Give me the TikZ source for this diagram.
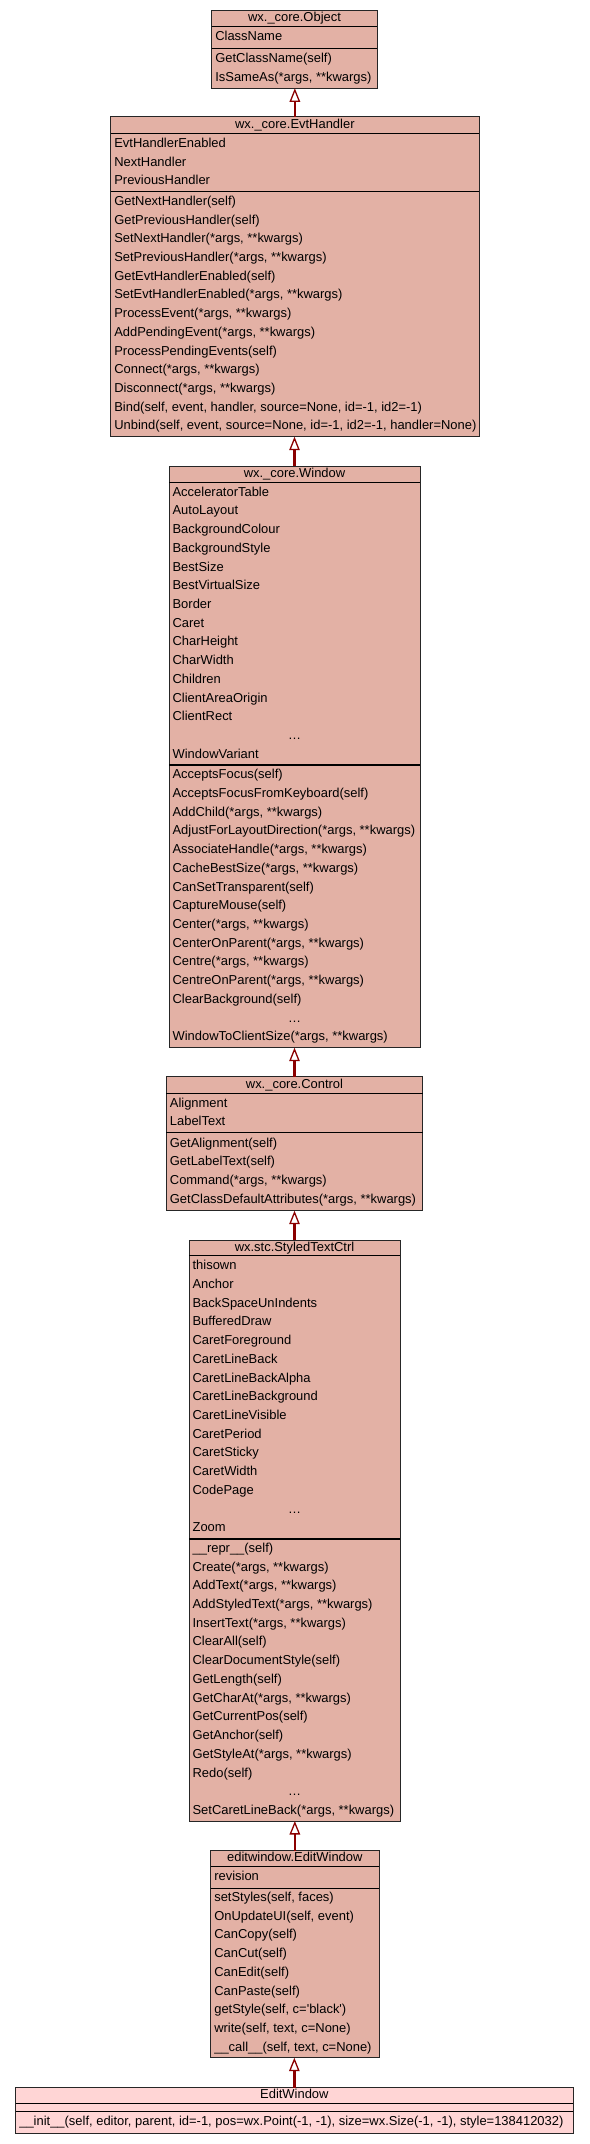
\documentclass[tikz,border=0pt]{standalone}
\usepackage{fontspec}
\setmainfont{Liberation Sans}[Ligatures=TeXOff]
\usetikzlibrary{arrows.meta}
\definecolor{classfill}{RGB}{227,177,165}
\definecolor{leaffill}{RGB}{255,213,213}
\definecolor{arrowred}{RGB}{139,0,0}
\newlength\rowwidth
\newcommand\ELL{\hbox to \rowwidth{\hfil …\hfil}}
\tikzset{
  every node/.style={font=\fontsize{12.95}{15}\selectfont, inner sep=0pt, outer sep=0pt},
  classbox/.style={draw=black!85, line width=1pt, rectangle, anchor=north west},
  titlesep/.style={draw=black, line width=1.1pt},
  attrsep/.style={draw=black, line width=1.4pt},
  rowtext/.style={anchor=base west},
  titletext/.style={anchor=base},
  inherit/.style={draw=arrowred, line width=2.4pt,
    -{Triangle[length=13.5pt, width=10.5pt, fill=white, line width=1.3pt]}},
}
% #1 name, #2 x1, #3 x2, #4 ytop, #5 ytitle, #6 yattr, #7 ybot, #8 fill, #9 title
\newcommand\umlclass[9]{%
  \node[classbox, fill=#8, minimum width=#3pt-#2pt, minimum height=#7pt-#4pt] (#1) at (#2,#4) {};
  \draw[titlesep] (#2,#5) -- (#3,#5);
  \draw[attrsep] (#2,#6) -- (#3,#6);
  \pgfmathsetmacro\tx{(#2+#3)/2}%
  \pgfmathsetmacro\ty{(#4+#5)/2+3.2}%
  \node[titletext] (#1-title) at (\tx,\ty) {#9};
}
% #1 prefix, #2 x1, #3 x2, #4 top, #5 bottom, #6 list
\newcommand\umlrows[6]{%
  \pgfmathsetmacro\rowx{#2+3.6}%
  \pgfmathsetlength\rowwidth{(#3-#2-7.2)*1pt}%
  \foreach \t [count=\i] in {#6} {\xdef\nrows{\i}}%
  \pgfmathsetmacro\ystart{(#4+#5)/2-(\nrows-1)/2*18.72+3.4}%
  \foreach \t [count=\i] in {#6} {%
    \pgfmathsetmacro\yy{\ystart+(\i-1)*18.72}%
    \node[rowtext] (#1-\i) at (\rowx,\yy) {\t};
  }%
}
\begin{document}
\begin{tikzpicture}[x=1pt,y=-1pt]
\useasboundingbox (0,0) rectangle (589,2144);
\fill[white] (0,0) rectangle (589,2144);

% wx._core.Object
\umlclass{obj}{211.7}{377.3}{10.7}{26.3}{48.3}{88.3}{classfill}{wx.\_core.Object}
\umlrows{obj-a}{211.7}{377.3}{26.3}{48.3}{ClassName}
\umlrows{obj-m}{211.7}{377.3}{48.3}{88.3}{GetClassName(self),{IsSameAs(*args, **kwargs)}}

% wx._core.EvtHandler
\umlclass{evt}{110.7}{479}{116.7}{133.7}{191.7}{436.7}{classfill}{wx.\_core.EvtHandler}
\umlrows{evt-a}{110.7}{479}{133.7}{191.7}{EvtHandlerEnabled,NextHandler,PreviousHandler}
\umlrows{evt-m}{110.7}{479}{191.7}{436.7}{GetNextHandler(self),GetPreviousHandler(self),{SetNextHandler(*args, **kwargs)},{SetPreviousHandler(*args, **kwargs)},GetEvtHandlerEnabled(self),{SetEvtHandlerEnabled(*args, **kwargs)},{ProcessEvent(*args, **kwargs)},{AddPendingEvent(*args, **kwargs)},ProcessPendingEvents(self),{Connect(*args, **kwargs)},{Disconnect(*args, **kwargs)},{Bind(self, event, handler, source=None, id=-1, id2=-1)},{Unbind(self, event, source=None, id=-1, id2=-1, handler=None)}}

% wx._core.Window
\umlclass{win}{169}{420}{466}{482.7}{765}{1047.7}{classfill}{wx.\_core.Window}
\umlrows{win-a}{169}{420}{482.7}{765}{AcceleratorTable,AutoLayout,BackgroundColour,BackgroundStyle,BestSize,BestVirtualSize,Border,Caret,CharHeight,CharWidth,Children,ClientAreaOrigin,ClientRect,\ELL,WindowVariant}
\umlrows{win-m}{169}{420}{765}{1047.7}{AcceptsFocus(self),AcceptsFocusFromKeyboard(self),{AddChild(*args, **kwargs)},{AdjustForLayoutDirection(*args, **kwargs)},{AssociateHandle(*args, **kwargs)},{CacheBestSize(*args, **kwargs)},CanSetTransparent(self),CaptureMouse(self),{Center(*args, **kwargs)},{CenterOnParent(*args, **kwargs)},{Centre(*args, **kwargs)},{CentreOnParent(*args, **kwargs)},ClearBackground(self),\ELL,{WindowToClientSize(*args, **kwargs)}}

% wx._core.Control
\umlclass{ctrl}{166.3}{422.7}{1076.7}{1093.3}{1132.7}{1210.7}{classfill}{wx.\_core.Control}
\umlrows{ctrl-a}{166.3}{422.7}{1093.3}{1132.7}{Alignment,LabelText}
\umlrows{ctrl-m}{166.3}{422.7}{1132.7}{1210.7}{GetAlignment(self),GetLabelText(self),{Command(*args, **kwargs)},{GetClassDefaultAttributes(*args, **kwargs)}}

% wx.stc.StyledTextCtrl
\umlclass{stc}{189}{400}{1240}{1255.7}{1539}{1821}{classfill}{wx.stc.StyledTextCtrl}
\umlrows{stc-a}{189}{400}{1255.7}{1539}{thisown,Anchor,BackSpaceUnIndents,BufferedDraw,CaretForeground,CaretLineBack,CaretLineBackAlpha,CaretLineBackground,CaretLineVisible,CaretPeriod,CaretSticky,CaretWidth,CodePage,\ELL,Zoom}
\umlrows{stc-m}{189}{400}{1539}{1821}{\_\_repr\_\_(self),{Create(*args, **kwargs)},{AddText(*args, **kwargs)},{AddStyledText(*args, **kwargs)},{InsertText(*args, **kwargs)},ClearAll(self),ClearDocumentStyle(self),GetLength(self),{GetCharAt(*args, **kwargs)},GetCurrentPos(self),GetAnchor(self),{GetStyleAt(*args, **kwargs)},Redo(self),\ELL,{SetCaretLineBack(*args, **kwargs)}}

% editwindow.EditWindow
\umlclass{ew}{210.7}{379}{1850.7}{1866.7}{1888.3}{2057.7}{classfill}{editwindow.EditWindow}
\umlrows{ew-a}{210.7}{379}{1866.7}{1888.3}{revision}
\umlrows{ew-m}{210.7}{379}{1888.3}{2057.7}{{setStyles(self, faces)},{OnUpdateUI(self, event)},CanCopy(self),CanCut(self),CanEdit(self),CanPaste(self),{getStyle(self, c='black')},{write(self, text, c=None)},{\_\_call\_\_(self, text, c=None)}}

% EditWindow
\umlclass{ewb}{15.7}{573}{2087.7}{2103.3}{2111.3}{2133}{leaffill}{EditWindow}
\umlrows{ewb-m}{15.7}{573}{2111.3}{2133}{{\_\_init\_\_(self, editor, parent, id=-1, pos=wx.Point(-1, -1), size=wx.Size(-1, -1), style=138412032)}}

% inheritance arrows
\draw[inherit] (evt.north) -- (evt.north |- obj.south);
\draw[inherit] (win.north) -- (win.north |- evt.south);
\draw[inherit] (ctrl.north) -- (ctrl.north |- win.south);
\draw[inherit] (stc.north) -- (stc.north |- ctrl.south);
\draw[inherit] (ew.north) -- (ew.north |- stc.south);
\draw[inherit] (ewb.north) -- (ewb.north |- ew.south);
\end{tikzpicture}
\end{document}
